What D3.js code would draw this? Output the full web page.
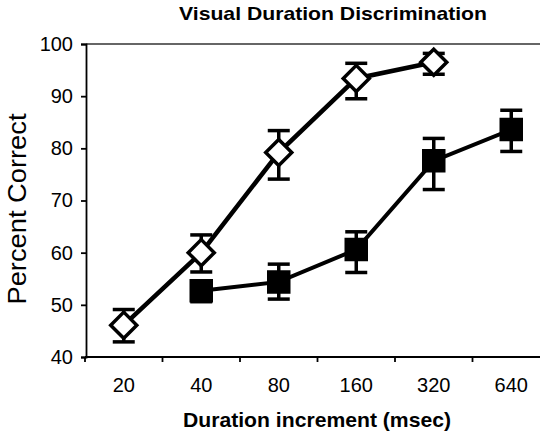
<!DOCTYPE html>
<html>
<head>
<meta charset="utf-8">
<script src="https://cdn.jsdelivr.net/npm/d3@7"></script>
<style>
  body { margin: 0; background: #fff; }
  text { font-family: "Liberation Sans", Arial, sans-serif; fill: #000; }
</style>
</head>
<body>
<div id="chart"></div>
<script>
// categories on the x axis (msec)
var durations = ["20", "40", "80", "160", "320", "640"];
var yTicks = [40, 50, 60, 70, 80, 90, 100];

// open diamonds
var openX    = ["20", "40", "80", "160", "320"];
var openMean = [46.1, 60.0, 79.2, 93.4, 96.5];
var openHi   = [49.1, 63.4, 83.4, 96.3, 98.2];
var openLo   = [42.9, 56.3, 74.1, 89.5, 94.2];

// filled squares
var filledX    = ["40", "80", "160", "320", "640"];
var filledMean = [52.7, 54.4, 60.6, 77.6, 83.6];
var filledHi   = [54.4, 57.8, 64.0, 81.9, 87.3];
var filledLo   = [50.6, 51.1, 56.2, 72.1, 79.4];

var width = 540,
    height = 434;

var svg = d3.select("#chart")
  .append("svg")
  .attr("width", width)
  .attr("height", height);

var x = d3.scaleBand()
  .domain(durations)
  .range([85, 550]);

var y = d3.scaleLinear()
  .domain([40, 100])
  .range([357, 44]);

// frame top line
svg.append("line")
  .attr("x1", 86).attr("x2", width)
  .attr("y1", y(100)).attr("y2", y(100))
  .attr("stroke", "#333")
  .attr("stroke-width", 1.4);

// y axis
var yAxis = svg.append("g")
  .attr("transform", "translate(86,0)")
  .call(d3.axisLeft(y).tickValues(yTicks).tickSize(5).tickPadding(8));
yAxis.select(".domain").attr("stroke", "#000").attr("stroke-width", 1.8);
yAxis.selectAll(".tick line").attr("stroke", "#000").attr("stroke-width", 1.8);
yAxis.selectAll(".tick text")
  .style("font-size", "20px")
  .style("font-family", "Liberation Sans, Arial, sans-serif")
  .attr("fill", "#000");

// x axis, ticks between categories
var xAxis = svg.append("g")
  .attr("transform", "translate(0,357)");
xAxis.append("line")
  .attr("x1", 85).attr("x2", width)
  .attr("stroke", "#000").attr("stroke-width", 1.8);
xAxis.selectAll(".xt")
  .data(durations)
  .enter().append("line")
  .attr("class", "xt")
  .attr("x1", function(d) { return x(d); })
  .attr("x2", function(d) { return x(d); })
  .attr("y1", 0).attr("y2", 5)
  .attr("stroke", "#000").attr("stroke-width", 1.8);
xAxis.selectAll(".xl")
  .data(durations)
  .enter().append("text")
  .attr("class", "xl")
  .attr("x", function(d) { return x(d) + x.bandwidth() / 2; })
  .attr("y", 35)
  .attr("text-anchor", "middle")
  .style("font-size", "20px")
  .text(function(d) { return d; });

// titles
svg.append("text")
  .attr("x", 333).attr("y", 20)
  .attr("text-anchor", "middle")
  .attr("font-weight", "bold")
  .style("font-size", "19px")
  .attr("textLength", 308)
  .attr("lengthAdjust", "spacingAndGlyphs")
  .text("Visual Duration Discrimination");

svg.append("text")
  .attr("x", 317).attr("y", 427)
  .attr("text-anchor", "middle")
  .attr("font-weight", "bold")
  .style("font-size", "21px")
  .attr("textLength", 268)
  .attr("lengthAdjust", "spacingAndGlyphs")
  .text("Duration increment (msec)");

svg.append("text")
  .attr("transform", "translate(26,209) rotate(-90)")
  .attr("text-anchor", "middle")
  .style("font-size", "25px")
  .attr("textLength", 191)
  .attr("lengthAdjust", "spacingAndGlyphs")
  .text("Percent Correct");

function cx(d) { return x(d) + x.bandwidth() / 2; }

function drawSeries(xs, mean, hi, lo, lineW, symbol, size, rot, fill) {
  var pts = xs.map(function(k, i) {
    return { k: k, m: mean[i], hi: hi[i], lo: lo[i] };
  });
  var line = d3.line()
    .x(function(d) { return cx(d.k); })
    .y(function(d) { return y(d.m); });
  svg.append("path")
    .datum(pts)
    .attr("d", line)
    .attr("fill", "none")
    .attr("stroke", "#000")
    .attr("stroke-width", lineW);

  var eb = svg.append("g").selectAll("g")
    .data(pts).enter().append("g")
    .attr("stroke", "#000")
    .attr("stroke-width", 3.5);
  eb.append("line")
    .attr("x1", function(d) { return cx(d.k); })
    .attr("x2", function(d) { return cx(d.k); })
    .attr("y1", function(d) { return y(d.hi); })
    .attr("y2", function(d) { return y(d.lo); });
  eb.append("line")
    .attr("x1", function(d) { return cx(d.k) - 11; })
    .attr("x2", function(d) { return cx(d.k) + 11; })
    .attr("y1", function(d) { return y(d.hi); })
    .attr("y2", function(d) { return y(d.hi); });
  eb.append("line")
    .attr("x1", function(d) { return cx(d.k) - 11; })
    .attr("x2", function(d) { return cx(d.k) + 11; })
    .attr("y1", function(d) { return y(d.lo); })
    .attr("y2", function(d) { return y(d.lo); });

  svg.append("g").selectAll("path")
    .data(pts).enter().append("path")
    .attr("d", d3.symbol().type(symbol).size(size))
    .attr("transform", function(d) {
      return "translate(" + cx(d.k) + "," + y(d.m) + ") rotate(" + rot + ")";
    })
    .attr("fill", fill)
    .attr("stroke", "#000")
    .attr("stroke-width", 3.5);
}

drawSeries(openX, openMean, openHi, openLo, 4.5, d3.symbolSquare, 340, 45, "#fff");
drawSeries(filledX, filledMean, filledHi, filledLo, 4, d3.symbolSquare, 400, 0, "#000");
</script>
</body>
</html>
